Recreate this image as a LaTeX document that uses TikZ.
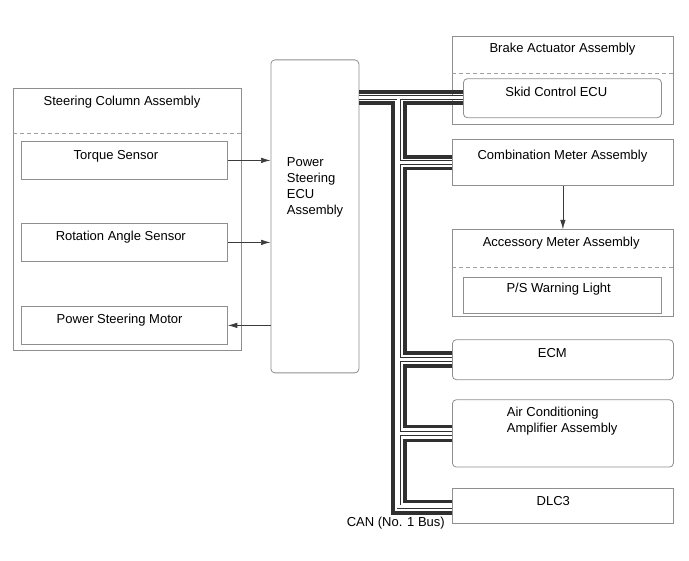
\documentclass[tikz,border=0pt]{standalone}
\usepackage{fontspec}
\setmainfont{Liberation Sans}
\usetikzlibrary{arrows.meta}

\begin{document}
\begin{tikzpicture}[x=1pt, y=-1pt, font=\fontsize{13}{15.6}\selectfont]

\definecolor{boxGray}{HTML}{8F8F8F}
\definecolor{dashGray}{HTML}{A0A0A0}
\definecolor{busDark}{HTML}{303030}
\definecolor{sigGray}{HTML}{3C3C3C}

\tikzset{
  unit/.style={draw=boxGray, line width=0.8pt, anchor=north west, inner sep=0pt},
  ecu/.style={unit, rounded corners=4pt},
  lbl/.style={anchor=base, inner sep=0pt},
  lblw/.style={anchor=base west, inner sep=0pt},
  sig/.style={draw=sigGray, line width=0.7pt, -{Latex[length=9.5pt, width=5.5pt]}},
  canh/.style={draw=busDark, line width=3.3pt},
  split/.style={draw=dashGray, line width=0.7pt, dash pattern=on 4pt off 3pt}
}

\useasboundingbox (0,0) rectangle (689,561);

% ===== Steering Column Assembly (left) =====
\node[unit, minimum width=228pt, minimum height=262pt] (scol) at (13,88) {};
\draw[split] (scol.west |- 0,133.5) -- (scol.east |- 0,133.5);
\node[lbl] (scolT) at (122,106) {Steering Column Assembly};

\node[unit, minimum width=206pt, minimum height=38pt] (torque) at (21,141) {};
\node[lbl] (torqueT) at (116,159.3) {Torque Sensor};
\node[unit, minimum width=206pt, minimum height=38pt] (rot) at (21,223) {};
\node[lbl] (rotT) at (120.8,241) {Rotation Angle Sensor};
\node[unit, minimum width=206pt, minimum height=38pt] (motor) at (21,306) {};
\node[lbl] (motorT) at (119.6,323.6) {Power Steering Motor};

% ===== Power Steering ECU Assembly =====
\node[ecu, minimum width=88pt, minimum height=313pt] (psecu) at (270.5,59.5) {};
\node[lblw] (psecuT1) at (286.7,166.5) {Power};
\node[lblw] (psecuT2) at (286.7,182.5) {Steering};
\node[lblw] (psecuT3) at (286.7,198.5) {ECU};
\node[lblw] (psecuT4) at (286.7,214.5) {Assembly};

% sensor / motor signals
\draw[sig] (torque.east) -- (torque.east -| psecu.west);
\draw[sig] (rot.east) -- (rot.east -| psecu.west);
\draw[sig] (motor.east -| psecu.west) -- (motor.east);

% ===== CAN units (right) =====
\node[unit, minimum width=221pt, minimum height=88pt] (brake) at (452,36) {};
\draw[split] (brake.west |- 0,73.3) -- (brake.east |- 0,73.3);
\node[lbl] (brakeT) at (562.5,52.7) {Brake Actuator Assembly};
\node[ecu, minimum width=198pt, minimum height=39pt] (skid) at (463,78.3) {};
\node[lbl] (skidT) at (556.3,96.7) {Skid Control ECU};

\node[unit, minimum width=221pt, minimum height=45.7pt] (comb) at (452,139.3) {};
\node[lbl] (combT) at (562.5,159.3) {Combination Meter Assembly};

\node[unit, minimum width=221pt, minimum height=87pt] (acc) at (452,229.3) {};
\draw[split] (acc.west |- 0,267) -- (acc.east |- 0,267);
\node[lbl] (accT) at (561.2,246.7) {Accessory Meter Assembly};
\node[unit, minimum width=198pt, minimum height=36pt] (psw) at (463,276.7) {};
\node[lbl] (pswT) at (558.7,292.7) {P/S Warning Light};

\draw[sig] (comb.south) -- (acc.north);

\node[ecu, minimum width=221pt, minimum height=40pt] (ecm) at (452,339.3) {};
\node[lbl] (ecmT) at (552.3,357.5) {ECM};

\node[ecu, minimum width=221pt, minimum height=67.4pt] (aca) at (452,399.3) {};
\node[lblw] (acaT1) at (506.7,416.5) {Air Conditioning};
\node[lblw] (acaT2) at (506.7,432.5) {Amplifier Assembly};

\node[unit, minimum width=221pt, minimum height=35pt] (dlc) at (452,488.3) {};
\node[lbl] (dlcT) at (553.3,505.9) {DLC3};

\node[anchor=base east, inner sep=0pt] (canT) at (445,527) {CAN (No. 1 Bus)};

% ===== CAN bus: thick wire (outer x=393, inner x=405) =====
\draw[canh] (psecu.east |- 0,92) -- (skid.west |- 0,92);
\draw[canh] (psecu.east |- 0,103) -| (393,513) -- (dlc.west |- 0,513);
\draw[canh] (skid.west |- 0,103) -| (405,157) -- (comb.west |- 0,157);
\draw[canh] (comb.west |- 0,168.5) -| (405,353) -- (ecm.west |- 0,353);
\draw[canh] (ecm.west |- 0,366) -| (405,426.5) -- (aca.west |- 0,426.5);
\draw[canh] (aca.west |- 0,440.5) -| (405,501.5) -- (dlc.west |- 0,501.5);

% ===== CAN bus: outlined wire (x=398.7), outline pass then white pass =====
\foreach \w/\c in {4.4pt/busDark, 3pt/white}
  \draw[draw=\c, line width=\w]
    (psecu.east |- 0,97.5) -- (skid.west |- 0,97.5)
    (398.7,97.5) |- (dlc.west |- 0,507)
    (398.7,162.5) -- (comb.west |- 0,162.5)
    (398.7,359.5) -- (ecm.west |- 0,359.5)
    (398.7,433.5) -- (aca.west |- 0,433.5);

\end{tikzpicture}
\end{document}
